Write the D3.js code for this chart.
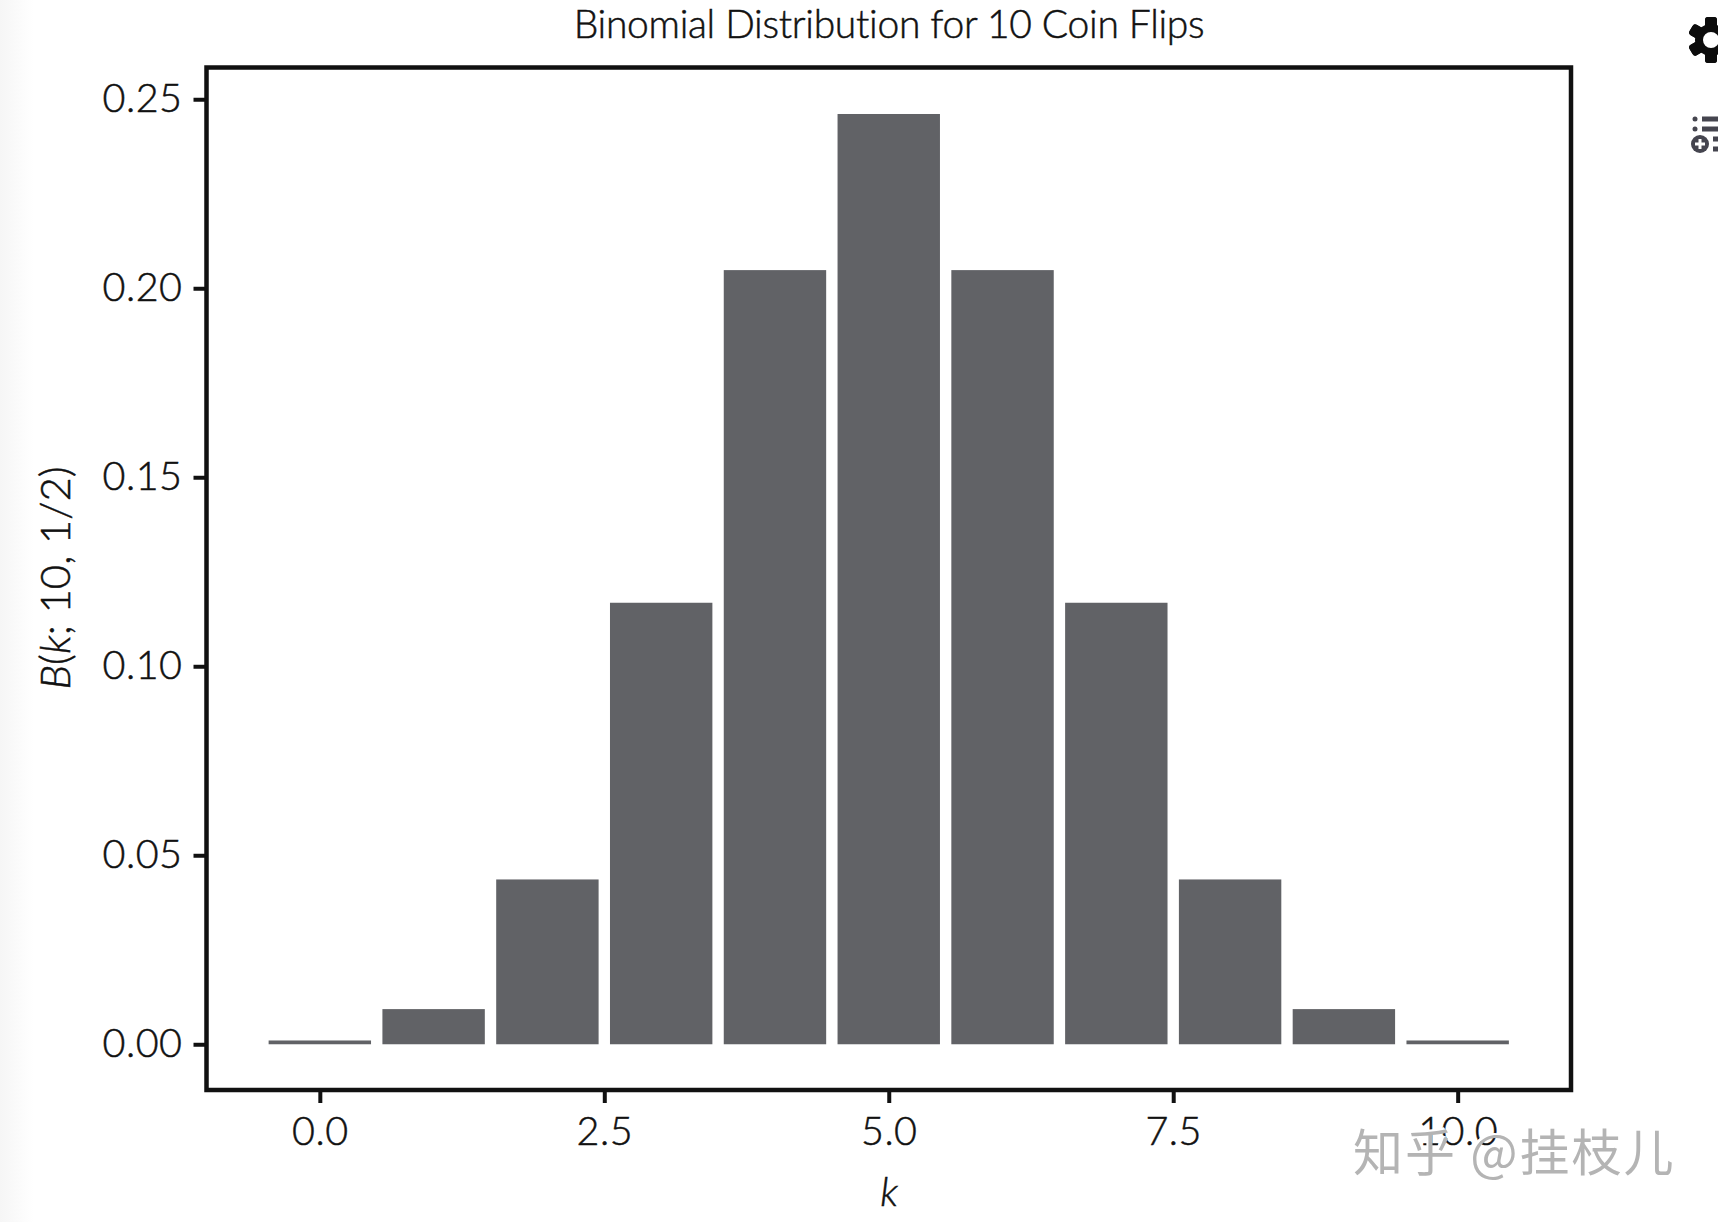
<!DOCTYPE html>
<html>
<head>
<meta charset="utf-8">
<script src="https://cdn.jsdelivr.net/npm/d3@7"></script>
<style>
    html, body { margin:0; padding:0; background:#fff; overflow:hidden; }
    svg { display:block; }
    text { font-family: Lato, sans-serif; font-weight:300; fill:#111; stroke:#111; stroke-width:0.5px; }
    .tick text { font-size:39.5px; letter-spacing:0.5px; }
    .tick line { stroke:#111; stroke-width:4px; }
    .domain { display:none; }
</style>
</head>
<body>
<svg id="chart" width="1718" height="1222"></svg>
<script>
var k_values = [0,1,2,3,4,5,6,7,8,9,10];
var prob_values = [0.001,0.0093,0.0436,0.1168,0.2048,0.2461,0.2048,0.1168,0.0436,0.0093,0.001];
var x_ticks = [0,2.5,5,7.5,10];
var y_ticks = [0,0.05,0.10,0.15,0.20,0.25];
var bar_width = 0.9;

var svg = d3.select("#chart");

var left = 206.5, right = 1571, top_y = 67.5, bottom = 1090;

var x = d3.scaleLinear().domain([-0.996,10.996]).range([left,right]);
var y = d3.scaleLinear().domain([-0.0121,0.2584]).range([bottom,top_y]);

// faint scan shading down the left edge of the page
var defs = svg.append("defs");
var grad = defs.append("linearGradient").attr("id","edge");
grad.append("stop").attr("offset","0%").attr("stop-color","#f6f6f6");
grad.append("stop").attr("offset","100%").attr("stop-color","#ffffff");
svg.append("rect").attr("width",34).attr("height",1222).attr("fill","url(#edge)");

svg.append("g").selectAll("rect")
    .data(k_values)
    .enter().append("rect")
        .attr("x", function(d){ return x(d-bar_width/2); })
        .attr("width", function(d){ return x(bar_width)-x(0); })
        .attr("y", function(d,i){ return y(prob_values[i]); })
        .attr("height", function(d,i){ return y(0)-y(prob_values[i]); })
        .attr("fill","#616266");

svg.append("g")
    .attr("transform","translate(0,"+bottom+")")
    .call(d3.axisBottom(x).tickValues(x_ticks).tickFormat(d3.format(".1f")).tickSize(13).tickPadding(14));

svg.append("g")
    .attr("transform","translate("+left+",0)")
    .call(d3.axisLeft(y).tickValues(y_ticks).tickFormat(d3.format(".2f")).tickSize(13).tickPadding(11));

svg.append("rect")
    .attr("x",left).attr("y",top_y)
    .attr("width",right-left).attr("height",bottom-top_y)
    .attr("fill","none").attr("stroke","#111").attr("stroke-width",4.5);

svg.append("text")
    .attr("x",889).attr("y",38)
    .attr("text-anchor","middle")
    .style("font-size","39px").style("letter-spacing","-0.3px")
    .text("Binomial Distribution for 10 Coin Flips");

svg.append("text")
    .attr("x",889).attr("y",1206)
    .attr("text-anchor","middle")
    .style("font-size","40px").style("font-style","italic")
    .text("k");

var ylab = svg.append("text")
    .attr("transform","translate(70,578) rotate(-90)")
    .attr("text-anchor","middle")
    .style("font-size","42px");
ylab.append("tspan").style("font-style","italic").text("B");
ylab.append("tspan").text("(");
ylab.append("tspan").style("font-style","italic").text("k");
ylab.append("tspan").text("; 10, 1/2)");

// watermark, white copy knocks out the tick label underneath
var mark = "知乎 @挂枝儿";
svg.append("text")
    .attr("x",1351).attr("y",1169)
    .style("font-family","'Noto Sans CJK SC'").style("font-size","50px").style("letter-spacing","2px").style("font-weight",400)
    .style("fill","#fff").style("stroke","none")
    .text(mark);
svg.append("text")
    .attr("x",1353).attr("y",1171)
    .style("font-family","'Noto Sans CJK SC'").style("font-size","50px").style("letter-spacing","2px").style("font-weight",400)
    .style("fill","#b4b4b4").style("stroke","none")
    .text(mark);

// page icons cut off by the right edge
var gear = svg.append("g").attr("transform","translate(1711,40)");
d3.range(6).forEach(function(i){
    gear.append("rect")
        .attr("x",-6).attr("y",-23).attr("width",12).attr("height",46).attr("rx",3)
        .attr("fill","#0c0c0c")
        .attr("transform","rotate("+(i*60)+")");
});
gear.append("circle").attr("r",16).attr("fill","#0c0c0c");
gear.append("circle").attr("r",8).attr("fill","#fff");

var list = svg.append("g").attr("fill","#45454f");
[119,129].forEach(function(cy){
    list.append("circle").attr("cx",1695).attr("cy",cy).attr("r",2.5);
    list.append("rect").attr("x",1702).attr("y",cy-2.5).attr("width",16).attr("height",5);
});
[139,149].forEach(function(cy){
    list.append("rect").attr("x",1713).attr("y",cy-2.5).attr("width",5).attr("height",5);
});
list.append("circle").attr("cx",1700).attr("cy",144).attr("r",9);
list.append("rect").attr("x",1695).attr("y",142.5).attr("width",10).attr("height",3).attr("fill","#fff");
list.append("rect").attr("x",1698.5).attr("y",139).attr("width",3).attr("height",10).attr("fill","#fff");
</script>
</body>
</html>
